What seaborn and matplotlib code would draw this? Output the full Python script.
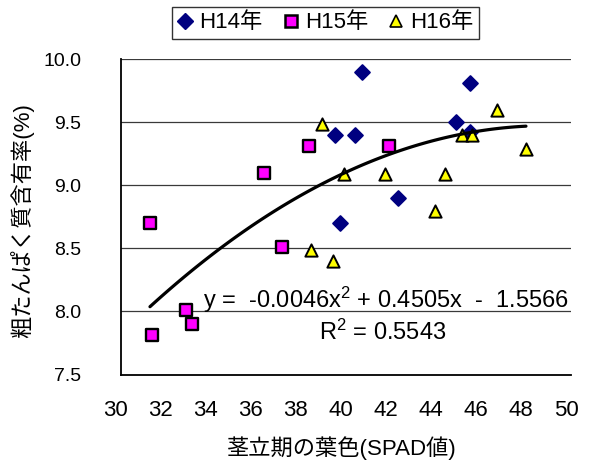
import numpy as np
import pandas as pd
import matplotlib
matplotlib.use("Agg")
import matplotlib.pyplot as plt
import matplotlib.transforms as mtransforms
from matplotlib.lines import Line2D
import seaborn as sns

# ---- data ----
h14_x = [39.5, 39.75, 40.7, 40.4, 42.3, 44.9, 45.5, 45.5]
h14_y = [9.40, 8.70, 9.90, 9.40, 8.90, 9.50, 9.81, 9.42]
h15_x = [31.3, 31.4, 32.9, 33.15, 36.35, 37.15, 38.35, 41.9]
h15_y = [8.70, 7.81, 8.01, 7.90, 9.10, 8.51, 9.31, 9.31]
h16_x = [38.93, 38.44, 39.44, 39.92, 41.75, 44.39, 43.97, 45.15, 45.62, 46.71, 48.0]
h16_y = [9.49, 8.49, 8.40, 9.09, 9.09, 9.09, 8.80, 9.40, 9.40, 9.60, 9.29]
series_names = ["H14年", "H15年", "H16年"]
coef = [-0.0046, 0.4505, -1.5566]
eq_text = "y =  -0.0046x$^2$ + 0.4505x  -  1.5566"
r2_text = "R$^2$ = 0.5543"
x_ticks = [30, 32, 34, 36, 38, 40, 42, 44, 46, 48, 50]
y_ticks = [7.5, 8.0, 8.5, 9.0, 9.5, 10.0]
x_label = "茎立期の葉色(SPAD値)"
y_label = "粗たんぱく質含有率(%)"

sns.set_style("white")
plt.rcParams['font.family'] = ['Liberation Sans', 'Noto Sans CJK JP', 'DejaVu Sans']
plt.rcParams['mathtext.default'] = 'regular'
plt.rcParams['text.color'] = 'black'
plt.rcParams['axes.labelcolor'] = 'black'
plt.rcParams['xtick.color'] = 'black'
plt.rcParams['ytick.color'] = 'black'

W, H = 590, 468
fig = plt.figure(figsize=(W / 100, H / 100), dpi=100)
L, R, T, B = 120.7, 571.0, 59.2, 374.5
ax = fig.add_axes([L / W, 1 - B / H, (R - L) / W, (B - T) / H])

for yv in [8.0, 8.5, 9.0, 9.5, 10.0]:
    ax.axhline(yv, color="#3a3a3a", lw=0.9, zorder=0)

styles = [
    dict(marker="D", color="#000080", edgecolor="#000080", s=58, lw=1.3),
    dict(marker="s", color="#FF00FF", edgecolor="black", s=76, lw=1.7),
    dict(marker="^", color="#FFFF00", edgecolor="black", s=78, lw=1.4),
]
data = [(h14_x, h14_y), (h15_x, h15_y), (h16_x, h16_y)]
for (xs, ys), st in zip(data, styles):
    df = pd.DataFrame({"x": xs, "y": ys})
    sns.scatterplot(data=df, x="x", y="y", ax=ax, marker=st["marker"],
                    color=st["color"], edgecolor=st["edgecolor"], s=st["s"],
                    linewidth=st["lw"], zorder=3, legend=False)

all_x = h14_x + h15_x + h16_x
xx = np.linspace(min(all_x), max(all_x), 100)
yy = np.polyval(coef, xx)
sns.lineplot(x=xx, y=yy, ax=ax, color="black", lw=2.3, zorder=4)

fig.text(385.5 / W, 1 - 300 / H, eq_text, ha="center", va="center", fontsize=17, zorder=5)
fig.text(383 / W, 1 - 332 / H, r2_text, ha="center", va="center", fontsize=17, zorder=5)

ax.set_xlim(30, 50)
ax.set_ylim(7.5, 10.0)
ax.set_xticks(x_ticks)
ax.set_yticks(y_ticks)
ax.set_xticklabels([str(t) for t in x_ticks])
ax.set_yticklabels([f"{t:.1f}" for t in y_ticks])
ax.tick_params(axis="x", direction="in", length=5, width=1, labelsize=16, pad=18, color="black", labelcolor="black")
ax.tick_params(axis="y", direction="out", length=2.5, width=1, labelsize=14, pad=26, color="black", labelcolor="black")
shift = mtransforms.ScaledTranslation(-5 / 100, 0, fig.dpi_scale_trans)
for lbl in ax.get_xticklabels():
    lbl.set_transform(lbl.get_transform() + shift)

ax.set_xlabel(x_label, fontsize=16)
ax.set_ylabel(y_label, fontsize=16)
ax.xaxis.set_label_coords((341 - L) / (R - L), (B - 448) / (B - T))
ax.xaxis.label.set_va("center")
ax.yaxis.set_label_coords((22 - L) / (R - L), (B - 221) / (B - T))
ax.yaxis.label.set_va("center")

for side in ["top", "right"]:
    ax.spines[side].set_visible(False)
for side in ["left", "bottom"]:
    ax.spines[side].set_color("black")
    ax.spines[side].set_linewidth(1.3)

handles = [
    Line2D([], [], linestyle="none", marker="D", markersize=8, markerfacecolor="#000080", markeredgecolor="#000080"),
    Line2D([], [], linestyle="none", marker="s", markersize=8, markerfacecolor="#FF00FF", markeredgecolor="black", markeredgewidth=1.8),
    Line2D([], [], linestyle="none", marker="^", markersize=8.5, markerfacecolor="#FFFF00", markeredgecolor="black", markeredgewidth=1.2),
]
leg = fig.legend(handles, series_names, loc="center", bbox_to_anchor=(325.5 / W, 1 - 23 / H),
                 ncol=3, frameon=True, fontsize=16, handlelength=0.7, handletextpad=0.3,
                 columnspacing=0.9, borderpad=0.25, fancybox=False)
leg.get_frame().set_edgecolor("black")
leg.get_frame().set_linewidth(1.0)

fig.savefig("out.png", dpi=100)
